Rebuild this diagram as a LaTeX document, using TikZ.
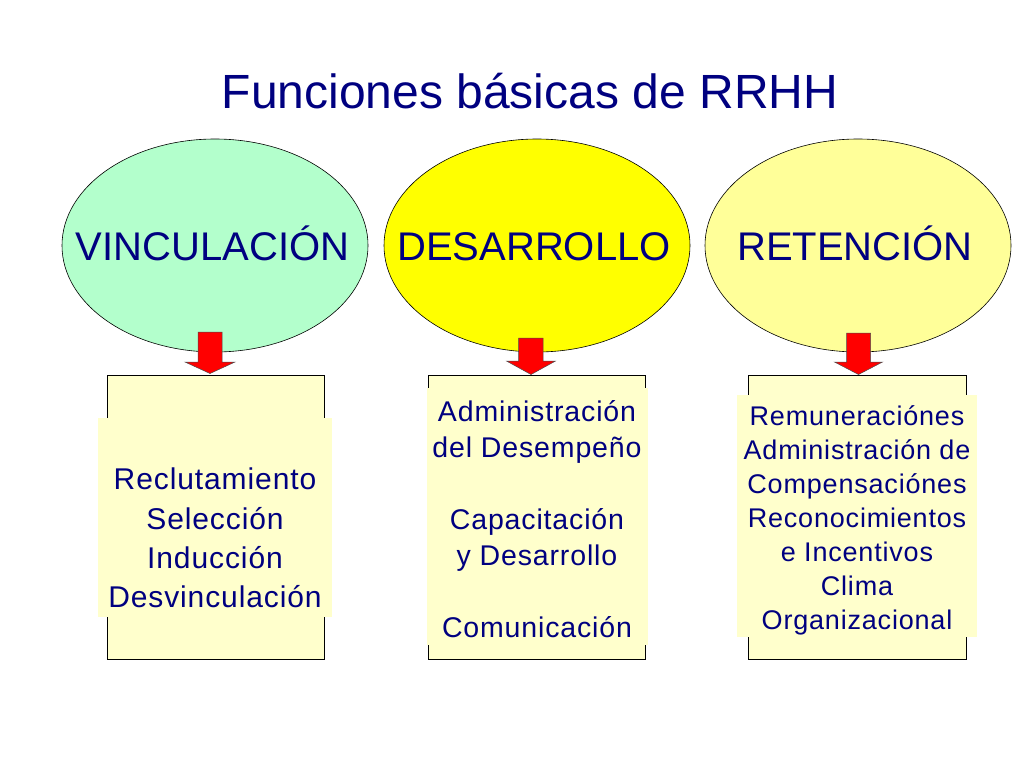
\documentclass[tikz,border=0pt]{standalone}
\usepackage{fontspec}
\setmainfont{Liberation Sans}
\newfontfamily\boxfont[LetterSpace=3]{Liberation Sans}
\usetikzlibrary{shapes.geometric}
\definecolor{navy}{RGB}{0,0,128}
\definecolor{mint}{RGB}{179,255,204}
\definecolor{yel}{RGB}{255,255,0}
\definecolor{paleyel}{RGB}{255,255,153}
\definecolor{cream}{RGB}{255,255,204}
\definecolor{arrred}{RGB}{255,0,0}
\begin{document}
\begin{tikzpicture}[x=1pt,y=-1pt,
  oval/.style={ellipse, draw=black, line width=0.6pt, minimum width=306pt, minimum height=213pt, inner sep=0pt},
  ovallabel/.style={anchor=base, inner sep=0pt, text=navy, font=\fontsize{40}{48}\selectfont},
  panel/.style={draw=black, line width=0.6pt, fill=cream, inner sep=0pt},
  panelbg/.style={fill=cream, inner sep=0pt},
  paneltext/.style={anchor=north, inner sep=0pt, align=center, text=navy},
  blockarrow/.style={fill=arrred, draw=black!70, line width=0.5pt, line join=miter}
]
\useasboundingbox (0,0) rectangle (1024,768);
\fill[white] (0,0) rectangle (1024,768);

% title
\node[anchor=base, inner sep=0pt, text=navy, font=\fontsize{48}{56}\selectfont] (title) at (530,108) {Funciones básicas de RRHH};

% ellipses
\node[oval, fill=mint] (e1) at (215,245.5) {};
\node[oval, fill=yel] (e2) at (537,245.5) {};
\node[oval, fill=paleyel] (e3) at (858,245.5) {};
\node[ovallabel] (l1) at (212.5,260) {VINCULACIÓN};
\node[ovallabel] (l2) at (534,260) {DESARROLLO};
\node[ovallabel] (l3) at (855,260) {RETENCIÓN};

% panels
\node[panel, minimum width=217pt, minimum height=284pt] (b1) at (215.5,517) {};
\node[panel, minimum width=217pt, minimum height=284pt] (b2) at (536.5,517) {};
\node[panel, minimum width=218pt, minimum height=284pt] (b3) at (857,517) {};

% text backgrounds
\node[panelbg, minimum width=234pt, minimum height=199pt] (bg1) at (215,517.5) {};
\node[panelbg, minimum width=221pt, minimum height=257pt] (bg2) at (537.5,516.5) {};
\node[panelbg, minimum width=240pt, minimum height=242pt] (bg3) at (857,516) {};

% panel texts
\node[paneltext, font=\boxfont\fontsize{30}{39.3}\selectfont] (t1) at (215,468)
  {Reclutamiento\\Selección\\Inducción\\Desvinculación};
\node[paneltext, font=\boxfont\fontsize{28.5}{36}\selectfont] (t2) at (537,400)
  {Administración\\del Desempeño\\[36pt]Capacitación\\y Desarrollo\\[36pt]Comunicación};
\node[paneltext, font=\boxfont\fontsize{27}{34}\selectfont] (t3) at (857,405)
  {Remuneraciónes\\Administración de\\Compensaciónes\\Reconocimientos\\e Incentivos\\Clima\\Organizacional};

% block arrows
\draw[blockarrow] (198,332) -- (222,332) -- (222,362) -- (235,362) -- (210,373.5) -- (185,362) -- (198,362) -- cycle;
\draw[blockarrow] (518.5,338) -- (543,338) -- (543,361) -- (555.5,361) -- (531,374.5) -- (506.5,361) -- (518.5,361) -- cycle;
\draw[blockarrow] (846.5,333) -- (870.5,333) -- (870.5,362) -- (882.5,362) -- (858.5,374.5) -- (834.5,362) -- (846.5,362) -- cycle;
\end{tikzpicture}
\end{document}
